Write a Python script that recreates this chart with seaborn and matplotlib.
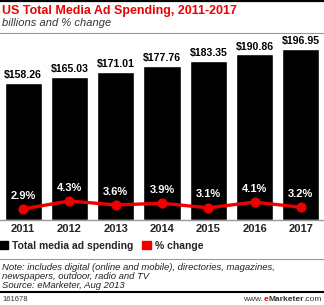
import matplotlib
matplotlib.use("Agg")
import matplotlib.pyplot as plt
from matplotlib.lines import Line2D
from matplotlib.patches import Patch
import pandas as pd
import seaborn as sns

years = ["2011", "2012", "2013", "2014", "2015", "2016", "2017"]
spending = [158.26, 165.03, 171.01, 177.76, 183.35, 190.86, 196.95]
pct_change = [2.9, 4.3, 3.6, 3.9, 3.1, 4.1, 3.2]

df = pd.DataFrame({"year": years, "spending": spending, "pct": pct_change})

sns.set_theme(style="white")
plt.rcParams["font.family"] = ["Liberation Sans", "DejaVu Sans"]

W, H = 324, 305
RED = "#ee0000"
fig = plt.figure(figsize=(W / 100, H / 100), dpi=100)

# main axes: baseline at y=220px, top at y=38px
ax = fig.add_axes([0, (H - 220) / H, 1, 182 / H])
sns.barplot(data=df, x="year", y="spending", color="black", width=0.8,
            saturation=1, ax=ax)
ax.set_xlim(-0.5, 6.5)
ax.set_ylim(0, 209.7)
ax.bar_label(ax.containers[0], labels=[f"${v:.2f}" for v in spending],
             padding=2, fontsize=7.6, fontweight="bold", color="black")
ax.set_xlabel("")
ax.set_ylabel("")
ax.set_yticks([])
ax.tick_params(axis="x", length=0, pad=3, labelsize=8)
for lbl in ax.get_xticklabels():
    lbl.set_fontweight("bold")
for side in ["top", "left", "right"]:
    ax.spines[side].set_visible(False)
ax.spines["bottom"].set_color("#999999")
ax.spines["bottom"].set_linewidth(1)

# % change on a second axis
ax2 = ax.twinx()
sns.pointplot(data=df, x="year", y="pct", color=RED, markersize=5.5,
              linewidth=2.4, ax=ax2)
ax2.set_xlim(-0.5, 6.5)
ax2.set_ylim(0.96, 32.9)
ax2.set_yticks([])
ax2.set_ylabel("")
ax2.set_xlabel("")
for side in ax2.spines:
    ax2.spines[side].set_visible(False)
for i, p in enumerate(pct_change):
    ax2.annotate(f"{p}%", (i, p), xytext=(0, 6), textcoords="offset points",
                 ha="center", va="bottom", color="white", fontsize=8,
                 fontweight="bold")

# header
def fy(px):
    return 1 - px / H

fig.add_artist(Line2D([0, 1], [fy(0.8), fy(0.8)], color="black", lw=1.6))
fig.text(2 / W, fy(11), "US Total Media Ad Spending, 2011-2017", color=RED,
         fontsize=9, fontweight="bold", va="center", ha="left")
fig.text(2 / W, fy(23.5), "billions and % change", color="#333333",
         fontsize=8, style="italic", va="center", ha="left")
fig.add_artist(Line2D([0, 1], [fy(33), fy(33)], color="#999999", lw=0.8))

# legend
handles = [Patch(color="black"), Patch(color=RED)]
fig.legend(handles, ["Total media ad spending", "% change"],
           loc="center left", bbox_to_anchor=(0, fy(246)), ncol=2,
           frameon=False, handlelength=0.8, handleheight=0.8,
           handletextpad=0.4, columnspacing=0.8, borderaxespad=0,
           borderpad=0, prop={"weight": "bold", "size": 7.5})

# footer
fig.add_artist(Line2D([0, 1], [fy(259), fy(259)], color="#999999", lw=0.8))
notes = ["Note: includes digital (online and mobile), directories, magazines,",
         "newspapers, outdoor, radio and TV",
         "Source: eMarketer, Aug 2013"]
for k, line in enumerate(notes):
    fig.text(2 / W, fy(267 + 9.5 * k), line, fontsize=6.8, style="italic",
             color="#222222", va="center", ha="left")
fig.add_artist(Line2D([0, 1], [fy(292), fy(292)], color="black", lw=1.5))
fig.text(2 / W, fy(299.5), "161678", fontsize=5.5, color="#333333",
         va="center", ha="left")

# www.eMarketer.com, right aligned, built right to left
renderer = fig.canvas.get_renderer()
parts = [(".com", "normal", "#333333"), ("Marketer", "bold", "#333333"),
         ("e", "bold", RED), ("www.", "normal", "#333333")]
x = (W - 2) / W
for txt, wt, col in parts:
    t = fig.text(x, fy(299.5), txt, fontsize=6, fontweight=wt, color=col,
                 va="center", ha="right")
    x -= t.get_window_extent(renderer).width / W

fig.savefig("out.png", dpi=100)
